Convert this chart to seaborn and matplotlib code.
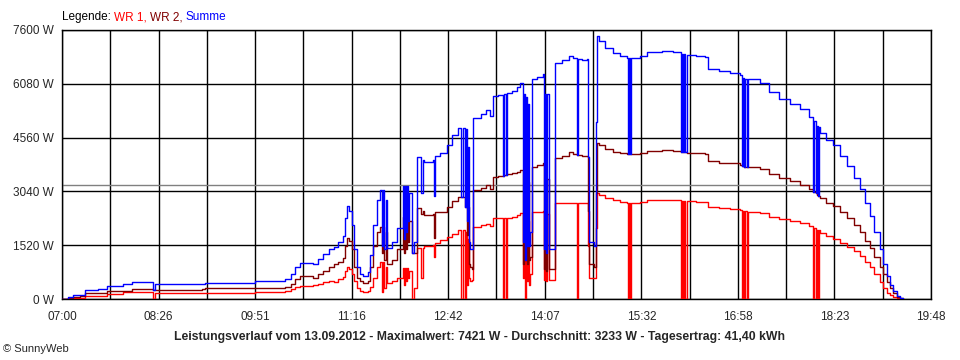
import matplotlib
matplotlib.use("Agg")
import matplotlib.pyplot as plt
import seaborn as sns
import pandas as pd

# Zeit in Minuten seit Mitternacht, Leistung in W
zeit = [420, 425, 430, 436, 440, 452, 460, 474, 482, 499, 500, 502, 544, 546, 591, 617, 622, 626, 630, 642,
        646, 651, 656, 660, 664, 668, 670, 672, 674, 676, 678, 681, 683, 686, 690, 692, 695, 698, 701, 703,
        704, 705, 706, 707, 712, 716, 721, 722, 723, 724, 725, 726, 727, 729, 731, 734, 737, 739, 740, 748,
        749, 750, 754, 760, 765, 770, 773, 774, 776, 777, 778, 779, 780, 781, 782, 783, 790, 795, 798, 801,
        805, 810, 811, 812, 813, 818, 822, 825, 827, 828, 829, 830, 831, 832, 833, 834, 835, 840, 845, 846,
        847, 848, 849, 850, 856, 862, 868, 872, 875, 876, 880, 884, 885, 886, 890, 892, 893, 895, 900, 907,
        913, 919, 920, 921, 922, 923, 931, 937, 950, 960, 966, 967, 968, 969, 970, 971, 972, 980, 988, 991,
        1001, 1010, 1019, 1021, 1022, 1023, 1024, 1025, 1026, 1037, 1045, 1054, 1063, 1072, 1080, 1084, 1085,
        1086, 1087, 1088, 1089, 1090, 1095, 1101, 1108, 1114, 1120, 1125, 1130, 1134, 1138, 1143, 1146, 1149,
        1152, 1154, 1158, 1161, 1163]

wr1 = [0, 20, 40, 40, 95, 95, 130, 190, 190, 190, 0, 160, 160, 160, 200, 230, 280, 330, 380, 395,
       420, 470, 520, 480, 560, 620, 800, 913, 850, 700, 500, 300, 220, 200, 230, 350, 600, 900, 1054, 200,
       1054, 300, 900, 450, 500, 600, 870, 400, 870, 500, 870, 600, 800, 0, 300, 1450, 600, 1450, 1500, 1520,
       1195, 1580, 1667, 1750, 1850, 1950, 0, 1950, 0, 1900, 400, 1700, 600, 500, 550, 2040, 2080, 2120, 2050, 2280,
       2280, 0, 2280, 0, 2300, 2330, 2380, 2440, 600, 2300, 0, 2300, 500, 2200, 400, 700, 2466, 2466, 2500, 550,
       2400, 500, 2400, 550, 2700, 2700, 2720, 2700, 0, 2700, 2700, 2720, 1500, 600, 600, 2000, 3000, 2950, 2850, 2797,
       2750, 2720, 0, 2720, 0, 2720, 2740, 2797, 2800, 2797, 2797, 0, 2780, 0, 2780, 0, 2770, 2740, 2730, 2607,
       2580, 2542, 2520, 0, 2490, 0, 2480, 0, 2466, 2430, 2330, 2250, 2200, 2138, 2050, 0, 2000,
       0, 1950, 0, 1950, 1855, 1780, 1700, 1580, 1478, 1350, 1220, 1050, 913, 700, 490, 300, 160,
       100, 60, 20, 0, 0]

wr2 = [0, 30, 60, 80, 160, 180, 225, 240, 290, 290, 250, 250, 270, 300, 320, 340, 420, 560, 650, 600,
       700, 800, 900, 1000, 1050, 1150, 1500, 1715, 1650, 1400, 900, 600, 500, 460, 520, 900, 1500, 1900, 2030, 1300,
       2030, 1100, 1900, 1000, 1100, 1400, 2325, 1300, 2325, 1400, 2325, 1600, 2200, 1300, 1300, 2560, 2400, 2480, 2373, 2400,
       1714, 2450, 2466, 2600, 2780, 2890, 2890, 2890, 2600, 2900, 1800, 2600, 1000, 900, 850, 3080, 3150, 3230, 3120, 3455,
       3480, 3480, 3500, 3500, 3520, 3550, 3600, 3650, 1000, 3500, 1100, 3400, 1000, 3300, 1100, 1200, 3737, 3800, 3850, 850,
       3400, 800, 3400, 850, 3975, 4050, 4150, 4100, 4070, 4070, 4040, 4050, 2500, 1000, 900, 3000, 4421, 4350, 4250, 4160,
       4115, 4100, 4095, 4095, 4095, 4095, 4120, 4180, 4200, 4190, 4180, 4150, 4150, 4150, 4150, 4150, 4120, 4115, 4100, 3900,
       3850, 3833, 3800, 3750, 3750, 3740, 3740, 3740, 3737, 3660, 3520, 3410, 3320, 3220, 3100, 3031, 3030,
       3000, 2950, 2900, 2900, 2845, 2720, 2640, 2450, 2280, 2080, 1900, 1650, 1432, 1200, 913, 700, 490,
       300, 160, 60, 20, 0]

y_ticks = [0, 1520, 3040, 4560, 6080, 7600]
y_labels = ["0 W", "1520 W", "3040 W", "4560 W", "6080 W", "7600 W"]
x_labels = ["07:00", "08:26", "09:51", "11:16", "12:42", "14:07", "15:32", "16:58", "18:23", "19:48"]
durchschnitt = 3233

df = pd.DataFrame({"zeit": zeit, "WR 1": wr1, "WR 2": wr2})
df["Summe"] = df["WR 1"] + df["WR 2"]

sns.set_style("white")
plt.rcParams["font.family"] = ["Liberation Sans", "DejaVu Sans"]

fig = plt.figure(figsize=(9.6, 3.6), dpi=100)
ax = fig.add_axes([62 / 960, 1 - 299 / 360, (931 - 62) / 960, (299 - 30) / 360])

# Gitter
x_start, x_end = 420, 1188
gitter_x = [x_start + k * (x_end - x_start) / 18 for k in range(19)]
for gx in gitter_x:
    ax.axvline(gx, color="black", lw=1, zorder=1)
for gy in y_ticks:
    ax.axhline(gy, color="black", lw=1, zorder=1)
ax.axhline(durchschnitt, color="#808080", lw=1, zorder=1)

farben = {"WR 1": "#ff0000", "WR 2": "#800000", "Summe": "#0000ff"}
for name in ["WR 1", "WR 2", "Summe"]:
    sns.lineplot(data=df, x="zeit", y=name, ax=ax, color=farben[name], lw=1,
                 drawstyle="steps-post", estimator=None, zorder=3)

ax.set_xlim(x_start, x_end)
ax.set_ylim(0, 7600)
ax.set_xticks(gitter_x)
ax.set_xticklabels([x_labels[k // 2] if k % 2 == 0 else "" for k in range(19)])
ax.set_yticks(y_ticks)
ax.set_yticklabels(y_labels)
ax.set_xlabel("")
ax.set_ylabel("")
ax.tick_params(axis="x", direction="out", length=5, width=1, color="black", labelsize=8.5, pad=4)
ax.tick_params(axis="y", direction="inout", length=10, width=1, color="black", labelsize=8.5, pad=1)
for s in ax.spines.values():
    s.set_color("black")
    s.set_linewidth(1)

# Legende oben
t = fig.text(62 / 960, 1 - 17 / 360, "Legende: ", color="black", fontsize=8.5, va="center")
for teil, farbe in [("WR 1, ", "#ff0000"), ("WR 2, ", "#800000"), ("Summe", "#0000ff")]:
    t = ax.annotate(teil, xy=(1, 0), xycoords=t, ha="left", va="bottom", color=farbe, fontsize=8.5)

fig.text(480 / 960, 1 - 337 / 360,
         "Leistungsverlauf vom 13.09.2012 - Maximalwert: 7421 W - Durchschnitt: 3233 W - Tagesertrag: 41,40 kWh",
         ha="center", va="center", fontsize=8.8, fontweight="bold")
fig.text(3 / 960, 1 - 349 / 360, "© SunnyWeb", ha="left", va="center", fontsize=8)

fig.savefig("out.png", dpi=100)
